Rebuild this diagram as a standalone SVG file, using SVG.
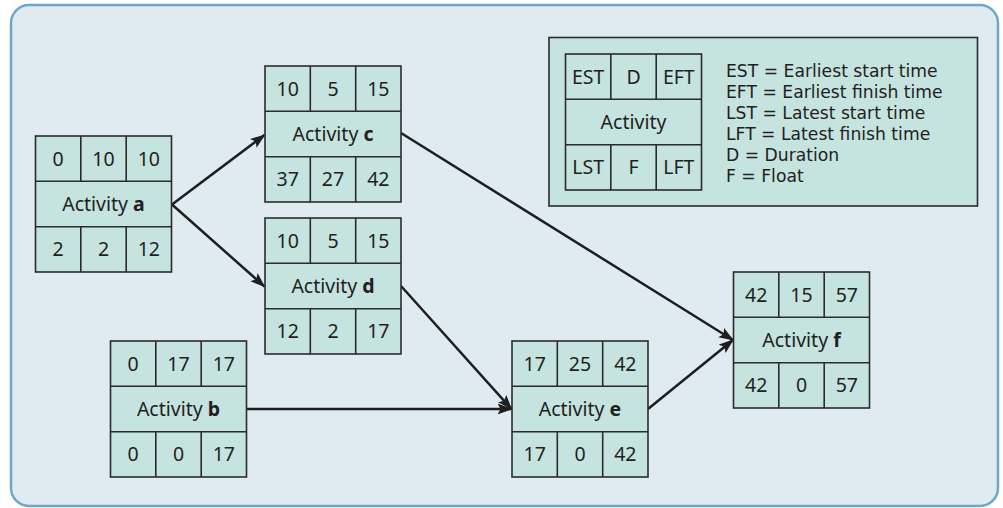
<svg xmlns="http://www.w3.org/2000/svg" width="1003" height="508" viewBox="0 0 1003 508">
<style>
.cell{fill:#c5e3df;stroke:#2b2b2b;stroke-width:1.6}
.t{font-family:"Noto Sans","Liberation Sans",sans-serif;font-size:19.5px;fill:#231f20;text-anchor:middle}
.lg{font-family:"DejaVu Sans","Liberation Sans",sans-serif;font-size:17.2px;fill:#231f20}
.b{font-weight:bold}
.conn{stroke:#1e1e1e;stroke-width:2.5;fill:none;marker-end:url(#ah)}
</style>
<defs>
<marker id="ah" markerUnits="userSpaceOnUse" markerWidth="16" markerHeight="12" refX="14" refY="6" orient="auto">
<path d="M0,0.5 L15,6 L0,11.5 L3,6 z" fill="#1e1e1e"/>
</marker>
<g id="grid">
<rect class="cell" x="0" y="0" width="136" height="136"/>
<line class="cell" x1="0" y1="45.3" x2="136" y2="45.3"/>
<line class="cell" x1="0" y1="90.7" x2="136" y2="90.7"/>
<line class="cell" x1="45.3" y1="0" x2="45.3" y2="45.3"/>
<line class="cell" x1="90.7" y1="0" x2="90.7" y2="45.3"/>
<line class="cell" x1="45.3" y1="90.7" x2="45.3" y2="136"/>
<line class="cell" x1="90.7" y1="90.7" x2="90.7" y2="136"/>
</g>
</defs>
<rect x="11" y="5" width="987" height="501" rx="18" fill="#e0ebf1" stroke="#6ea8c8" stroke-width="2.5"/>

<g id="legend">
<rect x="549" y="37.5" width="428.5" height="168.5" fill="#c5e3df" stroke="#2b2b2b" stroke-width="1.6"/>
<g transform="translate(565.5,54)">
<use href="#grid"/>
<text class="t" x="22.7" y="29.7">EST</text>
<text class="t" x="68" y="29.7">D</text>
<text class="t" x="113.3" y="29.7">EFT</text>
<text class="t" x="68" y="75">Activity</text>
<text class="t" x="22.7" y="120.3">LST</text>
<text class="t" x="68" y="120.3">F</text>
<text class="t" x="113.3" y="120.3">LFT</text>
</g>
<text class="lg" x="726" y="77">EST = Earliest start time</text>
<text class="lg" x="726" y="98">EFT = Earliest finish time</text>
<text class="lg" x="726" y="119">LST = Latest start time</text>
<text class="lg" x="726" y="140">LFT = Latest finish time</text>
<text class="lg" x="726" y="161">D = Duration</text>
<text class="lg" x="726" y="182">F = Float</text>
</g>

<g id="connectors">
<line class="conn" x1="172" y1="204.5" x2="264.5" y2="135"/>
<line class="conn" x1="172" y1="204.5" x2="264.5" y2="286.5"/>
<line class="conn" x1="401" y1="133" x2="733" y2="340"/>
<line class="conn" x1="401" y1="286" x2="511.5" y2="409"/>
<line class="conn" x1="247" y1="409" x2="511.5" y2="409"/>
<line class="conn" x1="648" y1="409" x2="733" y2="340"/>
</g>

<g id="node-a" transform="translate(35.5,136)">
<use href="#grid"/>
<text class="t" x="22.7" y="29.7">0</text>
<text class="t" x="68" y="29.7">10</text>
<text class="t" x="113.3" y="29.7">10</text>
<text class="t" x="68" y="75">Activity <tspan class="b">a</tspan></text>
<text class="t" x="22.7" y="120.3">2</text>
<text class="t" x="68" y="120.3">2</text>
<text class="t" x="113.3" y="120.3">12</text>
</g>

<g id="node-c" transform="translate(265,66)">
<use href="#grid"/>
<text class="t" x="22.7" y="29.7">10</text>
<text class="t" x="68" y="29.7">5</text>
<text class="t" x="113.3" y="29.7">15</text>
<text class="t" x="68" y="75">Activity <tspan class="b">c</tspan></text>
<text class="t" x="22.7" y="120.3">37</text>
<text class="t" x="68" y="120.3">27</text>
<text class="t" x="113.3" y="120.3">42</text>
</g>

<g id="node-d" transform="translate(265,218)">
<use href="#grid"/>
<text class="t" x="22.7" y="29.7">10</text>
<text class="t" x="68" y="29.7">5</text>
<text class="t" x="113.3" y="29.7">15</text>
<text class="t" x="68" y="75">Activity <tspan class="b">d</tspan></text>
<text class="t" x="22.7" y="120.3">12</text>
<text class="t" x="68" y="120.3">2</text>
<text class="t" x="113.3" y="120.3">17</text>
</g>

<g id="node-b" transform="translate(110.5,341)">
<use href="#grid"/>
<text class="t" x="22.7" y="29.7">0</text>
<text class="t" x="68" y="29.7">17</text>
<text class="t" x="113.3" y="29.7">17</text>
<text class="t" x="68" y="75">Activity <tspan class="b">b</tspan></text>
<text class="t" x="22.7" y="120.3">0</text>
<text class="t" x="68" y="120.3">0</text>
<text class="t" x="113.3" y="120.3">17</text>
</g>

<g id="node-e" transform="translate(512,341)">
<use href="#grid"/>
<text class="t" x="22.7" y="29.7">17</text>
<text class="t" x="68" y="29.7">25</text>
<text class="t" x="113.3" y="29.7">42</text>
<text class="t" x="68" y="75">Activity <tspan class="b">e</tspan></text>
<text class="t" x="22.7" y="120.3">17</text>
<text class="t" x="68" y="120.3">0</text>
<text class="t" x="113.3" y="120.3">42</text>
</g>

<g id="node-f" transform="translate(733.5,272)">
<use href="#grid"/>
<text class="t" x="22.7" y="29.7">42</text>
<text class="t" x="68" y="29.7">15</text>
<text class="t" x="113.3" y="29.7">57</text>
<text class="t" x="68" y="75">Activity <tspan class="b">f</tspan></text>
<text class="t" x="22.7" y="120.3">42</text>
<text class="t" x="68" y="120.3">0</text>
<text class="t" x="113.3" y="120.3">57</text>
</g>
</svg>
